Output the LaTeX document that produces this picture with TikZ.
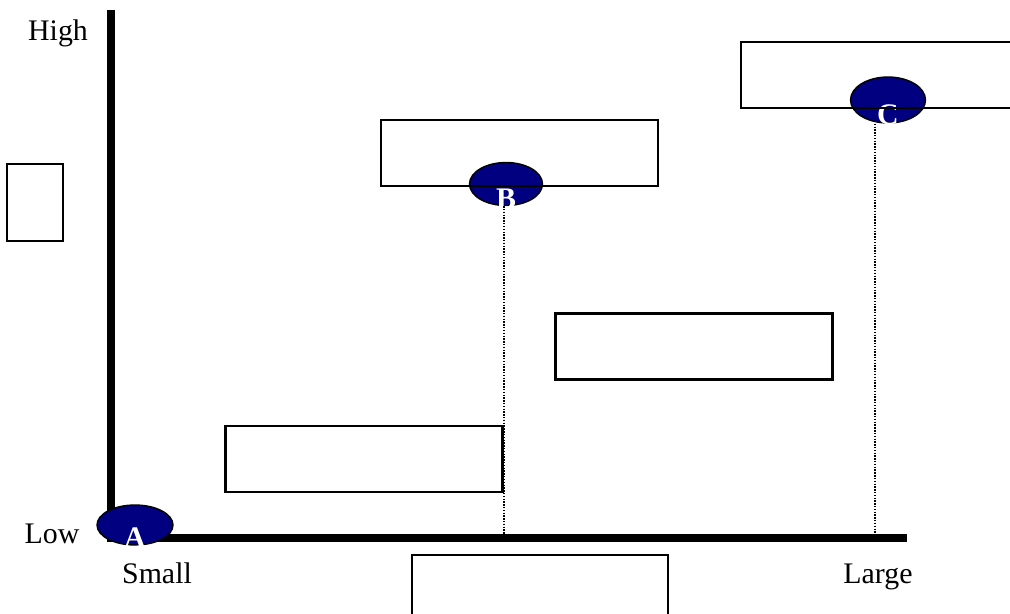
\documentclass[tikz,border=0pt]{standalone}
\usepackage{fontspec}
\setmainfont{Liberation Serif}
\usetikzlibrary{shapes.geometric}
\definecolor{markernavy}{RGB}{0,0,128}

\begin{document}
\begin{tikzpicture}[x=0.02cm, y=-0.02cm, font=\fontsize{17}{20}\selectfont,
    emptybox/.style={draw=black, line width=1.3pt, inner sep=0pt,
      minimum width=5.54cm, minimum height=1.32cm},
    marker/.style={ellipse, draw=black, line width=0.8pt, fill=markernavy,
      inner sep=0pt, minimum width=1.46cm, minimum height=0.86cm},
    letter/.style={yshift=-0.3cm, text=white, font=\fontsize{17}{20}\selectfont\bfseries},
    axislabel/.style={anchor=base},
    guide/.style={line width=0.9pt, dash pattern=on 0.8pt off 0.8pt}]
\useasboundingbox (0,0) rectangle (1010,613);
\clip (0,0) rectangle (1010,613);

% axes
\coordinate (ytop) at (111,10);
\coordinate (origin) at (111,538);
\coordinate (xend) at (907,538);
\draw[line width=4.5pt] (ytop) -- (origin) -- (xend);

\node[axislabel] (high) at (58,40) {High};
\node[axislabel] (low) at (52,543) {Low};
\node[axislabel] (small) at (157,583) {Small};
\node[axislabel] (large) at (878,583) {Large};

% points
\node[marker, minimum width=1.52cm, minimum height=0.8cm,
      label={[letter, yshift=0.05cm]center:A}] (pointa) at (135,525) {};
\node[marker, label={[letter]center:B}] (pointb) at (506,184) {};
\node[marker, minimum width=1.5cm, minimum height=0.92cm,
      label={[letter]center:C}] (pointc) at (888,100) {};

% empty boxes
\node[emptybox, minimum width=1.12cm, minimum height=1.54cm] (leftbox) at (35,202.5) {};
\node[emptybox] (boxb) at (519.5,153) {};
\node[emptybox] (boxc) at (879.5,75) {};
\node[emptybox] (midbox) at (694,346.5) {};
\node[emptybox] (lowbox) at (364,459) {};
\node[emptybox, minimum width=5.12cm] (bottombox) at (540,588) {};

% guides down to the axis
\coordinate (bfoot) at (504,534);
\coordinate (cfoot) at (875,534);
\draw[guide] (bfoot |- pointb.south) -- (bfoot);
\draw[guide] (cfoot |- pointc.south) -- (cfoot);
\end{tikzpicture}
\end{document}
